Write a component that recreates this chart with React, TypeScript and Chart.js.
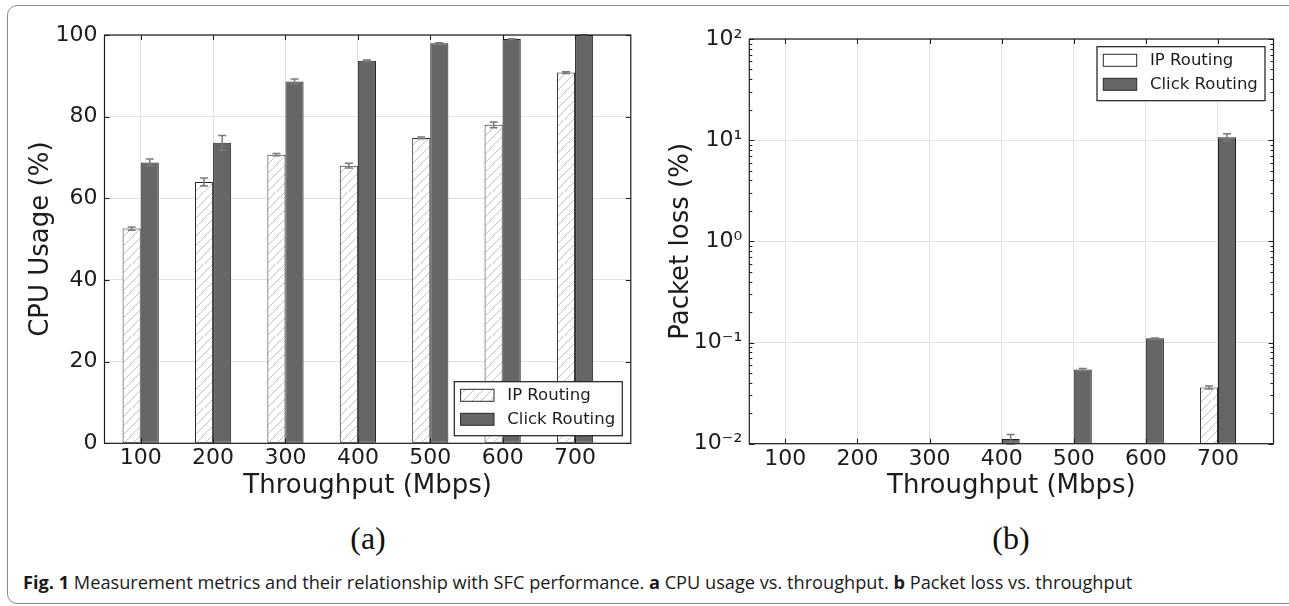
import React, { useEffect, useRef } from 'react';
import { Chart, registerables } from 'chart.js';

Chart.register(...registerables);

// ---------------- data ----------------
const throughput = [100, 200, 300, 400, 500, 600, 700];
const seriesNames = ['IP Routing', 'Click Routing'];

const cpuIp = [52.6, 64.0, 70.7, 68.0, 74.8, 78.0, 90.8];
const cpuIpErr = [0.4, 1.0, 0.3, 0.6, 0.2, 0.7, 0.2];
const cpuClick = [68.8, 73.6, 88.6, 93.7, 98.0, 99.0, 100.0];
const cpuClickErr = [0.8, 1.8, 0.6, 0.2, 0.1, 0.1, 0.1];

const lossIp = [null, null, null, null, null, null, 0.036];
const lossIpErr = [null, null, null, null, null, null, 0.0012];
const lossClick = [null, null, null, 0.0111, 0.054, 0.11, 10.7];
const lossClickErr = [null, null, null, 0.0012, 0.0015, 0.001, 0.9];

const cpuTicks = [0, 20, 40, 60, 80, 100];
const lossTicks = [0.01, 0.1, 1, 10, 100];
const lossTickLabels = ['10\u207B\u00B2', '10\u207B\u00B9', '10\u2070', '10\u00B9', '10\u00B2'];

const FONT = '"DejaVu Sans", sans-serif';
const INK = '#1c1c1c';

function makeHatch(): CanvasPattern | string {
  const c = document.createElement('canvas');
  c.width = 9;
  c.height = 9;
  const g = c.getContext('2d');
  if (!g) return '#fff';
  g.fillStyle = '#ffffff';
  g.fillRect(0, 0, 9, 9);
  g.strokeStyle = '#b8b8b8';
  g.lineWidth = 0.85;
  g.beginPath();
  g.moveTo(0, 9);
  g.lineTo(9, 0);
  g.moveTo(-4.5, 4.5);
  g.lineTo(4.5, -4.5);
  g.moveTo(4.5, 13.5);
  g.lineTo(13.5, 4.5);
  g.stroke();
  return g.createPattern(c, 'repeat') || '#fff';
}

type PanelSpec = {
  log: boolean;
  ip: (number | null)[];
  ipErr: (number | null)[];
  click: (number | null)[];
  clickErr: (number | null)[];
  yTitle: string;
  padTop: number;
  padRight: number;
  yAxisWidth: number;
  xAxisHeight: number;
  legendAtTop: boolean;
  legendHatch: boolean;
};

function decorPlugin(spec: PanelSpec, hatch: CanvasPattern | string) {
  return {
    id: 'decor',
    afterDatasetsDraw(chart: any) {
      const ctx = chart.ctx;
      const ys = chart.scales.y;
      const ca = chart.chartArea;
      const errs = [spec.ipErr, spec.clickErr];
      const vals = [spec.ip, spec.click];
      ctx.save();
      ctx.beginPath();
      ctx.rect(ca.left, ca.top - 1, ca.right - ca.left, ca.bottom - ca.top + 2);
      ctx.clip();
      ctx.strokeStyle = '#7a7a7a';
      ctx.lineWidth = 1.5;
      for (let d = 0; d < 2; d++) {
        const meta = chart.getDatasetMeta(d);
        meta.data.forEach((el: any, i: number) => {
          const v = vals[d][i];
          const e = errs[d][i];
          if (v == null || e == null) return;
          const x = el.x;
          const yt = ys.getPixelForValue(v + e);
          const yb = ys.getPixelForValue(Math.max(v - e, 1e-9));
          ctx.beginPath();
          ctx.moveTo(x, yt);
          ctx.lineTo(x, yb);
          ctx.moveTo(x - 4, yt);
          ctx.lineTo(x + 4, yt);
          ctx.moveTo(x - 4, yb);
          ctx.lineTo(x + 4, yb);
          ctx.stroke();
        });
      }
      ctx.restore();
    },
    afterDraw(chart: any) {
      const ctx = chart.ctx;
      const ca = chart.chartArea;
      const xs = chart.scales.x;
      const ys = chart.scales.y;
      ctx.save();
      ctx.strokeStyle = INK;
      ctx.lineWidth = 1.2;
      ctx.strokeRect(ca.left, ca.top, ca.right - ca.left, ca.bottom - ca.top);
      ctx.lineWidth = 1;
      ctx.beginPath();
      for (const v of throughput) {
        const px = Math.round(xs.getPixelForValue(v)) + 0.5;
        ctx.moveTo(px, ca.bottom);
        ctx.lineTo(px, ca.bottom - 5);
        ctx.moveTo(px, ca.top);
        ctx.lineTo(px, ca.top + 5);
      }
      const majors = spec.log ? lossTicks : cpuTicks;
      for (const v of majors) {
        const py = Math.round(ys.getPixelForValue(v)) + 0.5;
        ctx.moveTo(ca.left, py);
        ctx.lineTo(ca.left + 5, py);
        ctx.moveTo(ca.right, py);
        ctx.lineTo(ca.right - 5, py);
      }
      if (spec.log) {
        for (let k = 0; k < lossTicks.length - 1; k++) {
          for (let m = 2; m <= 9; m++) {
            const py = Math.round(ys.getPixelForValue(m * lossTicks[k])) + 0.5;
            ctx.moveTo(ca.left, py);
            ctx.lineTo(ca.left + 3, py);
            ctx.moveTo(ca.right, py);
            ctx.lineTo(ca.right - 3, py);
          }
        }
      }
      ctx.stroke();

      // legend
      const bw = 168;
      const bh = 54;
      const bx = ca.right - 8.5 - bw;
      const by = spec.legendAtTop ? ca.top + 7.7 : ca.bottom - 7.6 - bh;
      ctx.fillStyle = '#ffffff';
      ctx.fillRect(bx, by, bw, bh);
      ctx.strokeStyle = INK;
      ctx.lineWidth = 1.2;
      ctx.strokeRect(bx, by, bw, bh);
      const rows = [by + 13.6, by + 37.6];
      const fills = [spec.legendHatch ? hatch : '#ffffff', '#666666'];
      ctx.font = `16.5px ${FONT}`;
      ctx.textBaseline = 'middle';
      ctx.textAlign = 'left';
      for (let r = 0; r < 2; r++) {
        ctx.fillStyle = fills[r] as any;
        ctx.fillRect(bx + 6.3, rows[r] - 6, 33.4, 12);
        ctx.strokeStyle = '#2a2a2a';
        ctx.lineWidth = 1;
        ctx.strokeRect(bx + 6.3, rows[r] - 6, 33.4, 12);
        ctx.fillStyle = INK;
        ctx.fillText(seriesNames[r], bx + 53, rows[r]);
      }
      ctx.restore();
    },
  };
}

function buildChart(canvas: HTMLCanvasElement, spec: PanelSpec) {
  const hatch = makeHatch();
  const pts = (vals: (number | null)[]) => throughput.map((x, i) => ({ x, y: vals[i] }));
  const yTicks = spec.log ? lossTicks : cpuTicks;
  return new Chart(canvas, {
    type: 'bar',
    data: {
      datasets: [
        {
          label: seriesNames[0],
          data: pts(spec.ip) as any,
          backgroundColor: hatch as any,
          borderColor: '#2a2a2a',
          borderWidth: 1,
          borderSkipped: false,
          categoryPercentage: 0.5,
          barPercentage: 1.0,
        },
        {
          label: seriesNames[1],
          data: pts(spec.click) as any,
          backgroundColor: '#666666',
          borderColor: '#222222',
          borderWidth: 1,
          borderSkipped: false,
          categoryPercentage: 0.5,
          barPercentage: 1.0,
        },
      ],
    },
    options: {
      responsive: false,
      animation: false,
      events: [],
      layout: { padding: { top: spec.padTop, right: spec.padRight, left: 0, bottom: 0 } },
      plugins: { legend: { display: false }, tooltip: { enabled: false } },
      scales: {
        x: {
          type: 'linear',
          offset: false,
          min: 50,
          max: 777,
          afterBuildTicks: (s: any) => {
            s.ticks = throughput.map((v) => ({ value: v }));
          },
          afterFit: (s: any) => {
            s.height = spec.xAxisHeight;
          },
          grid: { color: '#e2e2e2', lineWidth: 1, drawTicks: false, offset: false },
          border: { display: false },
          ticks: {
            font: { family: FONT, size: 22 },
            color: INK,
            padding: 2,
            maxRotation: 0,
            autoSkip: false,
            callback: (v: any) => String(v),
          },
          title: {
            display: true,
            text: 'Throughput (Mbps)',
            font: { family: FONT, size: 26 },
            color: INK,
            padding: { top: 0, bottom: 13.4 },
          },
        },
        y: {
          type: spec.log ? 'logarithmic' : 'linear',
          min: spec.log ? 0.01 : 0,
          max: 100,
          afterBuildTicks: (s: any) => {
            s.ticks = yTicks.map((v) => ({ value: v }));
          },
          afterFit: (s: any) => {
            s.width = spec.yAxisWidth;
          },
          grid: { color: '#e2e2e2', lineWidth: 1, drawTicks: false },
          border: { display: false },
          ticks: {
            font: { family: FONT, size: 22 },
            color: INK,
            padding: 7,
            autoSkip: false,
            callback: (v: any, i: number) => (spec.log ? lossTickLabels[i] : String(v)),
          },
          title: {
            display: true,
            text: spec.yTitle,
            font: { family: FONT, size: 26 },
            color: INK,
            padding: { top: 25.6, bottom: 0 },
          },
        },
      } as any,
    },
    plugins: [decorPlugin(spec, hatch) as any],
  });
}

const leftSpec: PanelSpec = {
  log: false,
  ip: cpuIp,
  ipErr: cpuIpErr,
  click: cpuClick,
  clickErr: cpuClickErr,
  yTitle: 'CPU Usage (%)',
  padTop: 35,
  padRight: 18.2,
  yAxisWidth: 104.5,
  xAxisHeight: 71.7,
  legendAtTop: false,
  legendHatch: true,
};

const rightSpec: PanelSpec = {
  log: true,
  ip: lossIp,
  ipErr: lossIpErr,
  click: lossClick,
  clickErr: lossClickErr,
  yTitle: 'Packet loss (%)',
  padTop: 39,
  padRight: 15.5,
  yAxisWidth: 109.3,
  xAxisHeight: 71.3,
  legendAtTop: true,
  legendHatch: false,
};

function Panel({ spec, left }: { spec: PanelSpec; left: number }) {
  const ref = useRef<HTMLCanvasElement | null>(null);
  useEffect(() => {
    if (!ref.current) return;
    const ch = buildChart(ref.current, spec);
    return () => ch.destroy();
  }, [spec]);
  return (
    <canvas
      ref={ref}
      width={649}
      height={515}
      style={{ position: 'absolute', left, top: 0, width: 649, height: 515 }}
    />
  );
}

export default function App() {
  return (
    <div
      style={{
        position: 'absolute',
        left: 0,
        top: 0,
        width: 1289,
        height: 606,
        overflow: 'hidden',
        background: '#fff',
      }}
    >
      <div
        style={{
          position: 'absolute',
          left: 7,
          top: 5,
          width: 1300,
          height: 599,
          border: '1.5px solid #8a8a8a',
          borderRadius: 10,
          boxSizing: 'border-box',
        }}
      />
      <Panel spec={leftSpec} left={0} />
      <Panel spec={rightSpec} left={640} />
      <div
        style={{
          position: 'absolute',
          left: 268,
          top: 518,
          width: 200,
          textAlign: 'center',
          font: '32px "Liberation Serif", serif',
          lineHeight: '40px',
          color: '#111',
        }}
      >
        (a)
      </div>
      <div
        style={{
          position: 'absolute',
          left: 911,
          top: 518,
          width: 200,
          textAlign: 'center',
          font: '32px "Liberation Serif", serif',
          lineHeight: '40px',
          color: '#111',
        }}
      >
        (b)
      </div>
      <div
        style={{
          position: 'absolute',
          left: 23,
          top: 569,
          whiteSpace: 'nowrap',
          font: '18.2px "Open Sans", sans-serif',
          lineHeight: '26px',
          color: '#1a1a1a',
        }}
      >
        <b>Fig. 1</b> Measurement metrics and their relationship with SFC performance. <b>a</b> CPU
        usage vs. throughput. <b>b</b> Packet loss vs. throughput
      </div>
    </div>
  );
}
